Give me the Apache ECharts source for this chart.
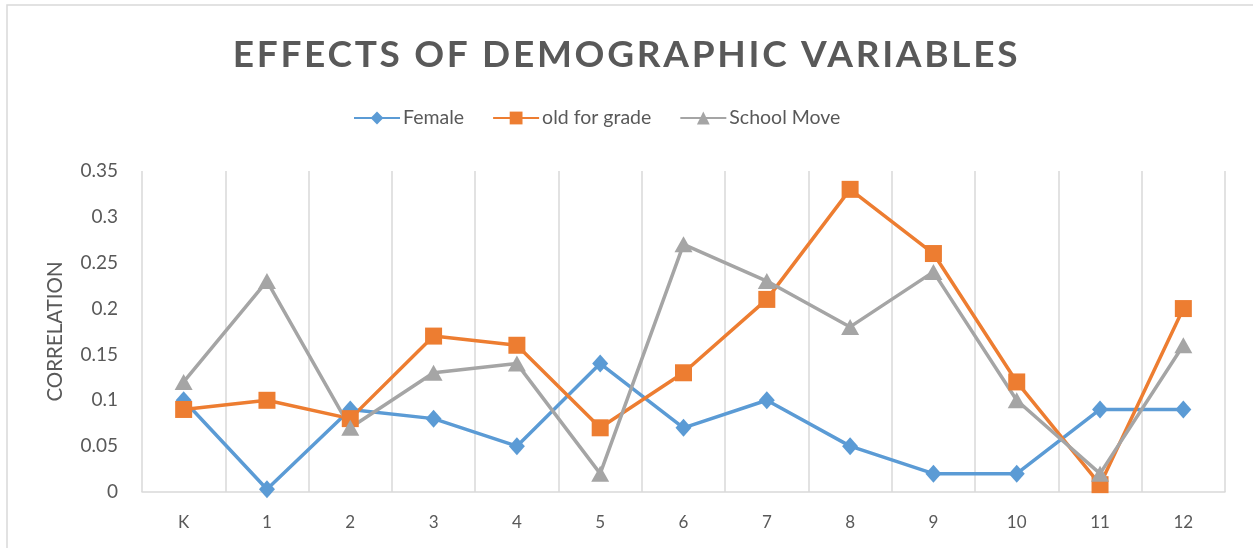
<!DOCTYPE html>
<html>
<head>
<meta charset="utf-8">
<script src="https://cdn.jsdelivr.net/npm/echarts@6/dist/echarts.min.js"></script>
<style>
html,body{margin:0;padding:0;background:#fff;}
#chart{width:1253px;height:548px;}
</style>
</head>
<body>
<div id="chart"></div>
<script>
const categories = ['K','1','2','3','4','5','6','7','8','9','10','11','12'];
const female = [0.10, 0.003, 0.09, 0.08, 0.05, 0.14, 0.07, 0.10, 0.05, 0.02, 0.02, 0.09, 0.09];
const oldForGrade = [0.09, 0.10, 0.08, 0.17, 0.16, 0.07, 0.13, 0.21, 0.33, 0.26, 0.12, 0.008, 0.20];
const schoolMove = [0.12, 0.23, 0.07, 0.13, 0.14, 0.02, 0.27, 0.23, 0.18, 0.24, 0.10, 0.02, 0.16];
const yTicks = ['0','0.05','0.1','0.15','0.2','0.25','0.3','0.35'];

// letter spacing for the title (Excel-style spaced heading)
(function () {
  const P = CanvasRenderingContext2D.prototype;
  if (!('letterSpacing' in P)) return;
  const apply = ctx => { ctx.letterSpacing = /bold 37px/.test(ctx.font) ? '2.7px' : '0px'; };
  const ft = P.fillText, mt = P.measureText;
  P.fillText = function () { apply(this); return ft.apply(this, arguments); };
  P.measureText = function () { apply(this); return mt.apply(this, arguments); };
})();

const FONT = 'Lato';
const TXT = '#595959';
const chart = echarts.init(document.getElementById('chart'));
chart.setOption({
  animation: false,
  graphic: [{
    type: 'rect', silent: true, z: -10,
    shape: {x: 7, y: 5, width: 1270, height: 570},
    style: {fill: '#fff', stroke: '#d9d9d9', lineWidth: 1.5}
  }],
  title: {
    text: 'EFFECTS OF DEMOGRAPHIC VARIABLES',
    left: 'center', top: 30,
    textStyle: {fontFamily: FONT, fontWeight: 'bold', fontSize: 37, color: TXT}
  },
  legend: {
    top: 108, left: 353, padding: 0,
    itemWidth: 46, itemHeight: 16, itemGap: 28,
    textStyle: {fontFamily: FONT, fontSize: 19.5, color: TXT, padding: [0,0,0,-2]},
    data: ['Female','old for grade','School Move']
  },
  grid: {left: 142, right: 28, top: 171, bottom: 56, containLabel: false},
  xAxis: {
    type: 'category', data: categories, boundaryGap: true,
    axisLine: {lineStyle: {color: '#d9d9d9', width: 1.5}},
    axisTick: {show: false},
    axisLabel: {fontFamily: FONT, fontSize: 17, color: TXT, margin: 22},
    splitLine: {show: true, lineStyle: {color: '#d9d9d9', width: 1.5}}
  },
  yAxis: {
    type: 'value', min: 0, max: 0.35, interval: 0.05,
    name: 'CORRELATION', nameLocation: 'middle', nameGap: 76, nameRotate: 90,
    nameTextStyle: {fontFamily: FONT, fontSize: 20.5, color: TXT},
    axisLine: {show: false}, axisTick: {show: false},
    axisLabel: {fontFamily: FONT, fontSize: 19, color: TXT, margin: 24,
      formatter: v => yTicks[Math.round(v / 0.05)]},
    splitLine: {show: false}
  },
  series: [
    {name: 'Female', type: 'line', data: female, symbol: 'diamond', symbolSize: [16,18],
     itemStyle: {color: '#5B9BD5'}, lineStyle: {width: 3.5, color: '#5B9BD5'}},
    {name: 'old for grade', type: 'line', data: oldForGrade, symbol: 'rect', symbolSize: 17,
     itemStyle: {color: '#ED7D31'}, lineStyle: {width: 3.5, color: '#ED7D31'}},
    {name: 'School Move', type: 'line', data: schoolMove, symbol: 'triangle', symbolSize: [18,16],
     itemStyle: {color: '#A5A5A5'}, lineStyle: {width: 3.5, color: '#A5A5A5'}}
  ]
});
</script>
</body>
</html>
